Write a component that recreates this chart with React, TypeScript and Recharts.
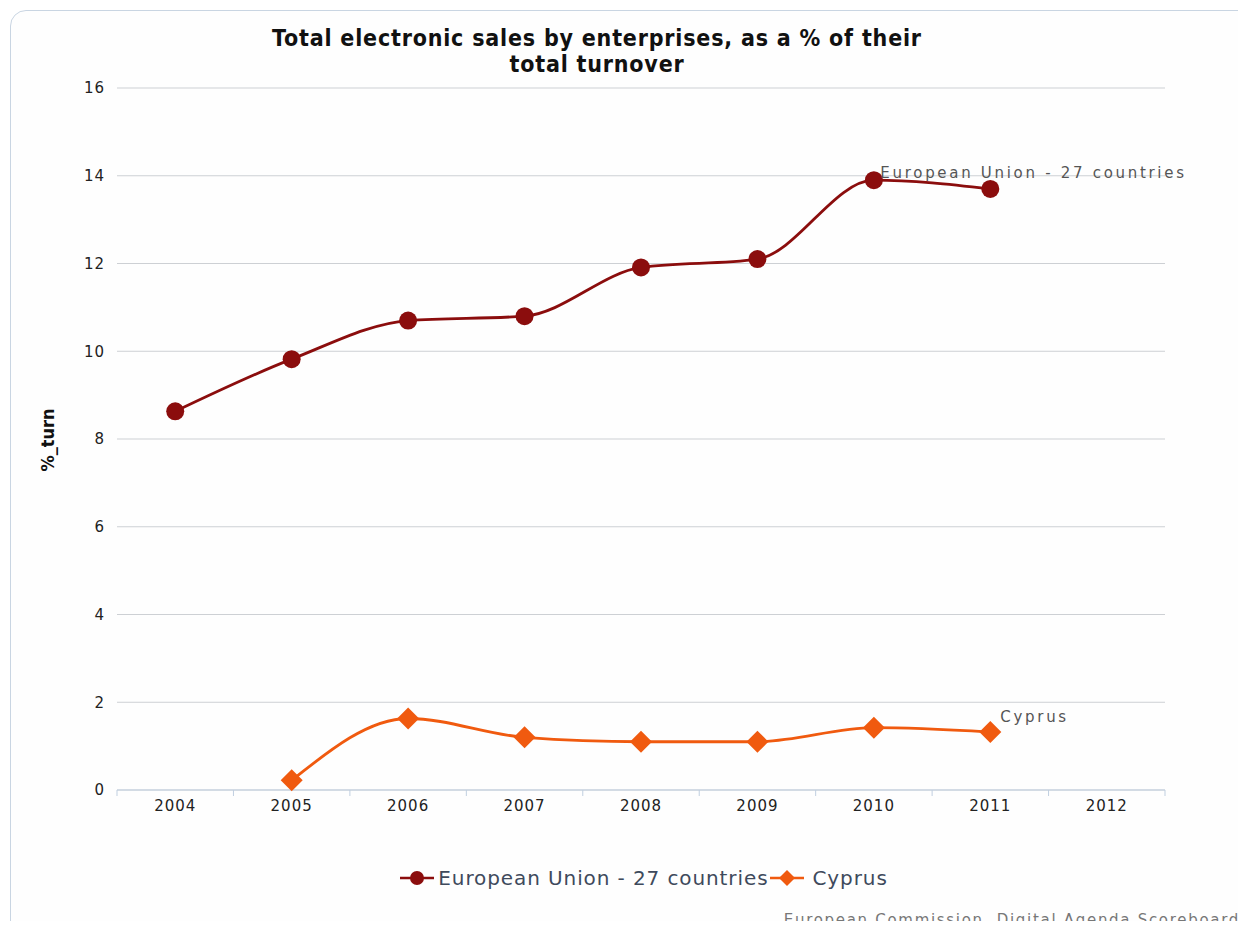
import React from "react";
import {
    LineChart,
    Line,
    XAxis,
    YAxis,
    CartesianGrid,
    LabelList,
} from "recharts";

const years = ["2004", "2005", "2006", "2007", "2008", "2009", "2010", "2011", "2012"];
const euValues = [8.63, 9.82, 10.7, 10.8, 11.91, 12.1, 13.9, 13.7, null];
const cyprusValues = [null, 0.22, 1.63, 1.2, 1.1, 1.1, 1.42, 1.32, null];
const yTicks = [0, 2, 4, 6, 8, 10, 12, 14, 16];

const EU_NAME = "European Union - 27 countries";
const CY_NAME = "Cyprus";
const EU_COLOR = "#8b0d0d";
const CY_COLOR = "#f05a0f";

const data = years.map((year, i) => ({
    year,
    eu: euValues[i],
    cy: cyprusValues[i],
}));

const lastIndex = (values: (number | null)[]) => {
    let idx = -1;
    values.forEach((v, i) => {
        if (v !== null) idx = i;
    });
    return idx;
};

const EU_LAST = lastIndex(euValues);
const CY_LAST = lastIndex(cyprusValues);

const sansFont = "'DejaVu Sans', sans-serif";
const condensedFont = "'DejaVu Sans Condensed', 'DejaVu Sans', sans-serif";

// tick label in the middle of the band, tick mark on the band edges
const YearTick = (props: any) => {
    const { x, y, payload, index, visibleTicksCount } = props;
    const half = payload.offset || 0;
    return (
        <g>
            <line x1={x - half} x2={x - half} y1={y - 8} y2={y - 2} stroke="#c0cfe0" />
            {index === visibleTicksCount - 1 && (
                <line x1={x + half} x2={x + half} y1={y - 8} y2={y - 2} stroke="#c0cfe0" />
            )}
            <text
                x={x}
                y={y + 13}
                textAnchor="middle"
                fill="#222"
                fontSize={15}
                letterSpacing={1}
                fontFamily={sansFont}
            >
                {payload.value}
            </text>
        </g>
    );
};

const CircleDot = (props: any) => {
    const { cx, cy, index } = props;
    if (cy == null || cx == null) return <g key={index} />;
    return <circle key={index} cx={cx} cy={cy} r={9} fill={EU_COLOR} />;
};

const DiamondDot = (props: any) => {
    const { cx, cy, index } = props;
    if (cy == null || cx == null) return <g key={index} />;
    const s = 11;
    return (
        <polygon
            key={index}
            points={`${cx},${cy - s} ${cx + s},${cy} ${cx},${cy + s} ${cx - s},${cy}`}
            fill={CY_COLOR}
        />
    );
};

const endLabel = (target: number, text: string, dx: number, dy: number) => (props: any) => {
    const { x, y, index } = props;
    if (index !== target) return null;
    return (
        <text
            x={x + dx}
            y={y + dy}
            fill="#555"
            fontSize={15}
            letterSpacing={2.7}
            fontFamily={sansFont}
        >
            {text}
        </text>
    );
};

const LegendBlock = () => (
    <div
        style={{
            position: "absolute",
            top: 866,
            left: 0,
            width: 1288,
            display: "flex",
            justifyContent: "center",
            alignItems: "center",
            fontFamily: sansFont,
            fontSize: 20,
            letterSpacing: 0.9,
            color: "#3e4a5c",
        }}
    >
        <svg width={34} height={18} style={{ marginRight: 4 }}>
            <line x1={0} x2={34} y1={9} y2={9} stroke={EU_COLOR} strokeWidth={2.5} />
            <circle cx={17} cy={9} r={7} fill={EU_COLOR} />
        </svg>
        <span style={{ marginRight: 2 }}>{EU_NAME}</span>
        <svg width={34} height={18} style={{ marginRight: 8 }}>
            <line x1={0} x2={34} y1={9} y2={9} stroke={CY_COLOR} strokeWidth={2.5} />
            <polygon points="17,1 25,9 17,17 9,9" fill={CY_COLOR} />
        </svg>
        <span>{CY_NAME}</span>
    </div>
);

export default function App() {
    return (
        <div
            style={{
                position: "relative",
                width: 1246,
                height: 929,
                margin: -8,
                overflow: "hidden",
                background: "#fff",
            }}
        >
            <div
                style={{
                    position: "absolute",
                    left: 10,
                    top: 10,
                    width: 1300,
                    height: 1000,
                    border: "1px solid #c9d5e2",
                    borderRadius: 16,
                    background: "#fefefe",
                }}
            />
            <div
                style={{
                    position: "absolute",
                    top: 25,
                    left: 0,
                    width: 1194,
                    textAlign: "center",
                    fontFamily: condensedFont,
                    fontWeight: "bold",
                    fontSize: 23,
                    letterSpacing: 0.8,
                    lineHeight: "26px",
                    color: "#111",
                }}
            >
                Total electronic sales by enterprises, as a % of their
                <br />
                total turnover
            </div>
            <div
                style={{
                    position: "absolute",
                    left: 47,
                    top: 440,
                    transform: "translate(-50%, -50%) rotate(-90deg)",
                    fontFamily: condensedFont,
                    fontWeight: "bold",
                    fontSize: 18,
                    color: "#111",
                    whiteSpace: "nowrap",
                }}
            >
                %_turn
            </div>
            <LineChart
                width={1246}
                height={929}
                data={data}
                margin={{ top: 88, right: 81, bottom: 109, left: 0 }}
                style={{ position: "absolute", left: 0, top: 0 }}
            >
                <CartesianGrid vertical={false} stroke="#cdd0d4" strokeWidth={1} />
                <XAxis
                    dataKey="year"
                    scale="band"
                    height={30}
                    tickLine={false}
                    axisLine={{ stroke: "#c0cfe0" }}
                    tick={<YearTick />}
                    interval={0}
                />
                <YAxis
                    domain={[0, 16]}
                    ticks={yTicks}
                    width={117}
                    tickLine={false}
                    axisLine={false}
                    tickMargin={6}
                    tick={{ fill: "#222", fontSize: 15, fontFamily: sansFont, letterSpacing: 1 }}
                />
                <Line
                    type="monotone"
                    dataKey="eu"
                    name={EU_NAME}
                    stroke={EU_COLOR}
                    strokeWidth={2.8}
                    dot={<CircleDot />}
                    activeDot={false}
                    isAnimationActive={false}
                >
                    <LabelList dataKey="eu" content={endLabel(EU_LAST, EU_NAME, -110, -11)} />
                </Line>
                <Line
                    type="monotone"
                    dataKey="cy"
                    name={CY_NAME}
                    stroke={CY_COLOR}
                    strokeWidth={2.8}
                    dot={<DiamondDot />}
                    activeDot={false}
                    isAnimationActive={false}
                >
                    <LabelList dataKey="cy" content={endLabel(CY_LAST, CY_NAME, 10, -10)} />
                </Line>
            </LineChart>
            <LegendBlock />
            <div
                style={{
                    position: "absolute",
                    right: 6,
                    top: 911,
                    fontFamily: sansFont,
                    fontSize: 15,
                    letterSpacing: 1.7,
                    color: "#777",
                    whiteSpace: "nowrap",
                }}
            >
                European Commission, Digital Agenda Scoreboard
            </div>
        </div>
    );
}
